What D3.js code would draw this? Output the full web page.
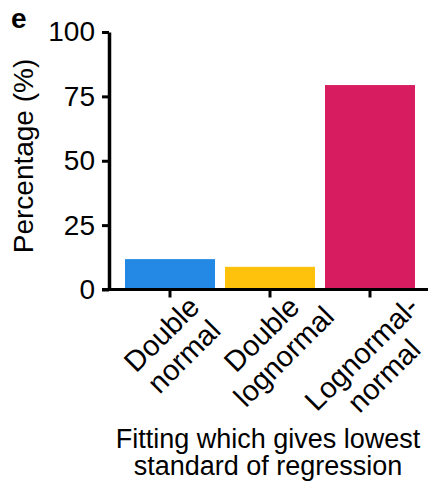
<!DOCTYPE html>
<html>
<head>
<meta charset="utf-8">
<script src="https://cdn.jsdelivr.net/npm/d3@7"></script>
<style>
  body { margin: 0; background: #fff; }
  svg { display: block; font-family: "Liberation Sans", Arial, Helvetica, sans-serif; }
</style>
</head>
<body>
<div id="chart"></div>
<script>
// data
var categories = [["Double", "normal"], ["Double", "lognormal"], ["Lognormal-", "normal"]];
var percentages = [11.8, 8.8, 79.4];
var barColors = ["#2389e5", "#ffc20c", "#d81c60"];
var yTicks = [0, 25, 50, 75, 100];
var yTitle = "Percentage (%)";
var xTitle = ["Fitting which gives lowest", "standard of regression"];
var panelLetter = "e";

var W = 440, H = 489;
var axisX = 109, axisY = 289.5;

var svg = d3.select("#chart").append("svg")
    .attr("width", W)
    .attr("height", H);

var x = d3.scaleBand()
    .domain(d3.range(categories.length))
    .range([120, 420])
    .paddingInner(0.1)
    .paddingOuter(0.05);

var y = d3.scaleLinear()
    .domain([0, 100])
    .range([axisY, 32]);

// bars
svg.selectAll("rect.bar")
    .data(percentages)
    .enter()
    .append("rect")
    .attr("class", "bar")
    .attr("x", function (d, i) { return x(i); })
    .attr("width", x.bandwidth())
    .attr("y", function (d) { return y(d); })
    .attr("height", function (d) { return axisY - y(d); })
    .style("fill", function (d, i) { return barColors[i]; });

// y axis
var yAxis = svg.append("g")
    .attr("transform", "translate(" + axisX + ",0)")
    .call(d3.axisLeft(y).tickValues(yTicks).tickSize(7).tickSizeOuter(0).tickPadding(7));
yAxis.select(".domain").attr("stroke-width", 3.5);
yAxis.selectAll(".tick line").attr("stroke-width", 3);
yAxis.selectAll(".tick text")
    .style("font-size", "28px")
    .attr("fill", "#000");

// x axis, the line runs a bit past the y axis like the original
var xAxis = svg.append("g")
    .attr("transform", "translate(0," + axisY + ")")
    .call(d3.axisBottom(x).tickSize(8).tickSizeOuter(0).tickFormat(""));
xAxis.select(".domain").remove();
xAxis.selectAll(".tick line").attr("stroke-width", 3);
xAxis.append("line")
    .attr("x1", axisX - 7)
    .attr("x2", 428)
    .attr("stroke", "#000")
    .attr("stroke-width", 3);

// category labels, rotated 45 deg, lines centred in the block
var fs = 29, lineH = 31.5, cos45 = Math.SQRT1_2;
categories.forEach(function (lines, i) {
    var tx = x(i) + x.bandwidth() / 2;
    var g = svg.append("g");
    var t = g.append("text")
        .attr("text-anchor", "middle")
        .style("font-size", fs + "px");
    lines.forEach(function (s, k) {
        t.append("tspan").attr("x", -33).attr("y", 31 + k * lineH).text(s);
    });
    // push label down when its top end would cross the axis
    var top = Infinity;
    t.selectAll("tspan").each(function (d, k) {
        var len = this.getComputedTextLength();
        var u = -33 + len / 2, v = 31 + k * lineH - 0.72 * fs;
        top = Math.min(top, axisY + (v - u) * cos45);
    });
    var shift = Math.max(0, 294 - top);
    g.attr("transform", "translate(" + tx + "," + (axisY + shift) + ") rotate(-45)");
});

// axis titles
svg.append("text")
    .attr("transform", "translate(33,156) rotate(-90)")
    .attr("text-anchor", "middle")
    .style("font-size", "28px")
    .text(yTitle);

svg.append("text")
    .attr("text-anchor", "middle")
    .style("font-size", "27px")
    .selectAll("tspan")
    .data(xTitle)
    .enter()
    .append("tspan")
    .attr("x", 268)
    .attr("y", function (d, i) { return 448 + i * 27; })
    .text(function (d) { return d; });

svg.append("text")
    .attr("x", 11)
    .attr("y", 28)
    .style("font-size", "28px")
    .style("font-weight", "bold")
    .text(panelLetter);
</script>
</body>
</html>
